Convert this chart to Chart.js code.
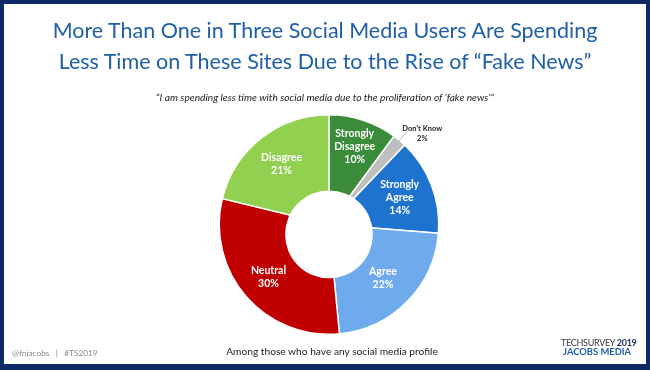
<!DOCTYPE html>
<html>
<head>
<meta charset="utf-8">
<script src="https://cdn.jsdelivr.net/npm/chart.js@4/dist/chart.umd.min.js"></script>
<style>
  body { margin: 0; background: #fff; }
  #frame { position: absolute; left: 0; top: 0; width: 650px; height: 370px; box-sizing: border-box; border: 4px solid #0d2a66; border-bottom-width: 6px; z-index: 5; }
  #myChart { position: absolute; left: 0; top: 0; }
  .txt { position: absolute; white-space: nowrap; }
  #title { left: 0; width: 650px; top: 15px; text-align: center; font: 21.5px Lato, sans-serif; line-height: 31px; color: #1f5fa8; }
  #subtitle { left: 0; width: 650px; top: 91px; text-align: center; font: italic 10.2px Lato, sans-serif; color: #222; }
  #base { left: 0; width: 664px; top: 345px; text-align: center; font: 10.2px Lato, sans-serif; color: #222; }
  #handle { left: 12px; top: 348px; font: 8.3px Lato, sans-serif; color: #8a8a8a; }
  #logo1 { left: 561px; top: 337px; font: 9px Lato, sans-serif; color: #333; letter-spacing: -0.3px; }
  #logo1 b { color: #1b2f5a; }
  #logo2 { left: 563px; top: 346px; font: bold 9.4px Lato, sans-serif; color: #1f5fa8; }
</style>
</head>
<body>
<canvas id="myChart" width="650" height="370"></canvas>
<div class="txt" id="title">More Than One in Three Social Media Users Are Spending<br>Less Time on These Sites Due to the Rise of “Fake News”</div>
<div class="txt" id="subtitle">“I am spending less time with social media due to the proliferation of ‘fake news’”</div>
<div class="txt" id="base">Among those who have any social media profile</div>
<div class="txt" id="handle">@fnjacobs &nbsp;&nbsp;|&nbsp;&nbsp; #TS2019</div>
<div class="txt" id="logo1">TECHSURVEY <b>2019</b></div>
<div class="txt" id="logo2">JACOBS MEDIA</div>
<div id="frame"></div>
<script>
// slices, clockwise from 12 o'clock
const categories = ['Strongly Disagree', "Don't Know", 'Strongly Agree', 'Agree', 'Neutral', 'Disagree'];
const values = [10, 2, 14, 22, 30, 21];
const colors = ['#3a8b3a', '#bfbfbf', '#1e73cf', '#6eaaec', '#c00000', '#92d050'];

// how far out (share of outer radius) each inside label sits
const labelRadius = [0.75, 0, 0.69, 0.69, 0.73, 0.70];

const holeAndLabels = {
  id: 'holeAndLabels',
  afterDatasetsDraw(chart) {
    const ctx = chart.ctx;
    const arcs = chart.getDatasetMeta(0).data;
    const cx = arcs[0].x, cy = arcs[0].y, R = arcs[0].outerRadius;
    // the hole sits a little below the centre of the ring
    ctx.save();
    ctx.fillStyle = '#fff';
    ctx.beginPath();
    ctx.arc(cx, cy + R * 0.09, R * 0.4, 0, Math.PI * 2);
    ctx.fill();

    ctx.textAlign = 'center';
    ctx.textBaseline = 'middle';
    arcs.forEach((arc, i) => {
      const mid = (arc.startAngle + arc.endAngle) / 2;
      const pct = values[i] + '%';
      if (labelRadius[i] === 0) {
        // small slice, label outside with a leader line
        const x1 = cx + Math.cos(mid) * R * 0.93, y1 = cy + Math.sin(mid) * R * 0.93;
        const x2 = cx + Math.cos(mid) * R * 1.11, y2 = cy + Math.sin(mid) * R * 1.11;
        ctx.strokeStyle = '#9cc3ea';
        ctx.lineWidth = 1;
        ctx.beginPath();
        ctx.moveTo(x1, y1);
        ctx.lineTo(x2, y2);
        ctx.stroke();
        ctx.fillStyle = '#222';
        ctx.font = 'bold 7.5px Lato, sans-serif';
        ctx.fillText(categories[i], x2 + 15, y2 - 3);
        ctx.fillText(pct, x2 + 15, y2 + 7);
        return;
      }
      const r = R * labelRadius[i];
      const x = cx + Math.cos(mid) * r, y = cy + Math.sin(mid) * r;
      const lines = categories[i].split(' ').concat([pct]);
      ctx.fillStyle = '#fff';
      ctx.font = 'bold 10.5px Lato, sans-serif';
      const lh = 13;
      lines.forEach((t, j) => {
        ctx.fillText(t, x, y + (j - (lines.length - 1) / 2) * lh);
      });
    });
    ctx.restore();
  }
};

new Chart(document.getElementById('myChart'), {
  type: 'doughnut',
  data: {
    labels: categories,
    datasets: [{
      data: values,
      backgroundColor: colors,
      borderColor: '#fff',
      borderWidth: 1.5
    }]
  },
  options: {
    responsive: false,
    animation: false,
    cutout: 0,
    layout: { padding: { top: 114, bottom: 35, left: 100, right: 92 } },
    plugins: {
      legend: { display: false },
      tooltip: { enabled: false }
    }
  },
  plugins: [holeAndLabels]
});
</script>
</body>
</html>
